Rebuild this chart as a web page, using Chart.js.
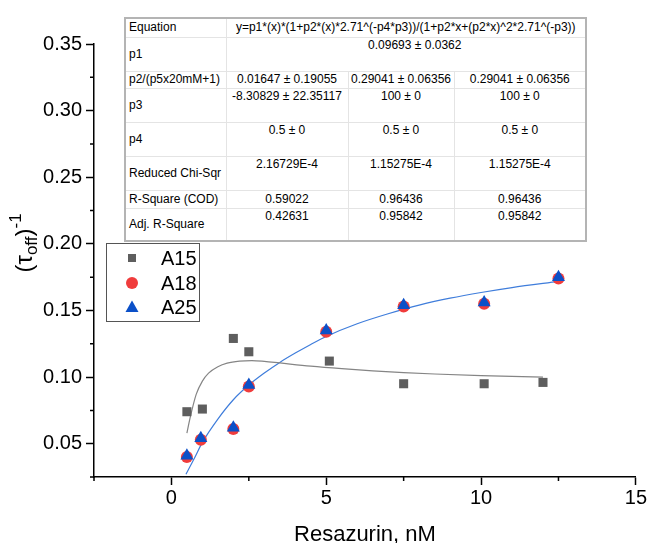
<!DOCTYPE html>
<html>
<head>
<meta charset="utf-8">
<script src="https://cdn.jsdelivr.net/npm/chart.js@4.4.0/dist/chart.umd.min.js"></script>
<style>
body { margin: 0; background: #fff; }
#wrap { position: relative; width: 648px; height: 543px; }
#fit-table {
  position: absolute; left: 124px; top: 17px; width: 461px;
  border-collapse: collapse; table-layout: fixed; background: #fff;
  font: 12px "Liberation Sans", Arial, sans-serif; color: #000;
  border: 2px solid #b4b4b4;
}
#fit-table td {
  border: 1px solid #e4e4e4; padding: 1px 0 0 0; text-align: center;
  vertical-align: top; line-height: 13px; white-space: nowrap; overflow: visible;
}
#fit-table td.lbl { text-align: left; vertical-align: middle; padding: 0 0 0 3px; }
</style>
</head>
<body>
<div id="wrap">
  <canvas id="chart" width="648" height="543"></canvas>
  <table id="fit-table"></table>
</div>
<script>
// Данные серий
const seriesNames = ['A15', 'A18', 'A25'];
const a15X = [0.5, 1.0, 2.0, 2.5, 5.1, 7.5, 10.1, 12.0];
const a15Y = [0.074, 0.076, 0.129, 0.119, 0.112, 0.095, 0.095, 0.096];
const a18X = [0.5, 0.95, 2.0, 2.5, 5.0, 7.5, 10.1, 12.5];
const a18Y = [0.040, 0.053, 0.061, 0.093, 0.134, 0.153, 0.155, 0.174];
const a25X = [0.5, 0.95, 2.0, 2.5, 5.0, 7.5, 10.1, 12.5];
const a25Y = [0.041, 0.054, 0.062, 0.094, 0.135, 0.154, 0.156, 0.175];

// Кривые подгонки
const fitA15X = [0.5, 0.6, 0.8, 1.0, 1.2, 1.5, 1.8, 2.2, 2.6, 3.0, 3.5, 4.5, 5.5, 6.5, 7.5, 8.5, 10.0, 11.0, 12.0];
const fitA15Y = [0.058, 0.069, 0.087, 0.097, 0.103, 0.1078, 0.1105, 0.1120, 0.1124, 0.1118, 0.1106, 0.1082, 0.1063, 0.1047, 0.1034, 0.1023, 0.1011, 0.1005, 0.1000];
const fitA25X = [0.47, 0.75, 1.0, 1.5, 2.0, 2.5, 3.0, 3.5, 4.0, 4.5, 5.0, 6.0, 7.0, 8.0, 9.0, 10.0, 11.0, 12.5];
const fitA25Y = [0.027, 0.0395, 0.051, 0.0685, 0.083, 0.094, 0.103, 0.111, 0.118, 0.1245, 0.1305, 0.140, 0.1475, 0.154, 0.1592, 0.1635, 0.1672, 0.1718];

// Оси
const xMin = -2.5, xMax = 15, xStep = 5, xMinorStep = 2.5;
const yMin = 0.025, yMax = 0.35, yStep = 0.05, yMinorStep = 0.025;

// Таблица параметров
const tableLabels = ['Equation', 'p1', 'p2/(p5x20mM+1)', 'p3', 'p4', 'Reduced Chi-Sqr', 'R-Square (COD)', 'Adj. R-Square'];
const equationText = 'y=p1*(x)*(1+p2*(x)*2.71^(-p4*p3))/(1+p2*x+(p2*x)^2*2.71^(-p3))';
const p1Text = '0.09693 ± 0.0362';
const tableValues = [
  ['0.01647 ± 0.19055', '0.29041 ± 0.06356', '0.29041 ± 0.06356'],
  ['-8.30829 ± 22.35117', '100 ± 0', '100 ± 0'],
  ['0.5 ± 0', '0.5 ± 0', '0.5 ± 0'],
  ['2.16729E-4', '1.15275E-4', '1.15275E-4'],
  ['0.59022', '0.96436', '0.96436'],
  ['0.42631', '0.95842', '0.95842']
];
const rowHeights = [19, 34, 17, 34, 34, 34, 18, 33];
const colWidths = [101, 122, 106, 132];

const colors = { a15: '#5e5e5e', a18: '#f03c3c', a25: '#0b50c8', fit15: '#858585', fit25: '#3f7ddb' };
const font = '"Liberation Sans", Arial, sans-serif';

function toPoints(xs, ys) {
  return xs.map((x, i) => ({ x: x, y: ys[i] }));
}

// Строим таблицу
const table = document.getElementById('fit-table');
const colgroup = document.createElement('colgroup');
colWidths.forEach(w => {
  const col = document.createElement('col');
  col.style.width = w + 'px';
  colgroup.appendChild(col);
});
table.appendChild(colgroup);
tableLabels.forEach((label, r) => {
  const tr = document.createElement('tr');
  tr.style.height = rowHeights[r] + 'px';
  const th = document.createElement('td');
  th.className = 'lbl';
  th.textContent = label;
  tr.appendChild(th);
  if (r < 2) {
    const td = document.createElement('td');
    td.colSpan = 3;
    td.textContent = r === 0 ? equationText : p1Text;
    if (r === 0) { td.style.verticalAlign = 'middle'; td.style.padding = '0'; }
    else td.style.paddingLeft = '18px';
    tr.appendChild(td);
  } else {
    tableValues[r - 2].forEach(v => {
      const td = document.createElement('td');
      td.textContent = v;
      if (r === 2 || r === 6) { td.style.verticalAlign = 'middle'; td.style.padding = '0'; }
      tr.appendChild(td);
    });
  }
  table.appendChild(tr);
});

// Плагин: малые деления, подпись оси Y, легенда
const extras = {
  id: 'extras',
  afterDraw(chart) {
    const ctx = chart.ctx;
    const xs = chart.scales.x, ys = chart.scales.y;
    ctx.save();
    ctx.strokeStyle = '#000';
    ctx.lineWidth = 1.5;
    ctx.beginPath();
    for (let v = xMin; v <= xMax + 1e-9; v += xMinorStep) {
      if (Math.abs(v / xStep - Math.round(v / xStep)) < 1e-6) continue;
      const px = xs.getPixelForValue(v);
      ctx.moveTo(px, xs.top);
      ctx.lineTo(px, xs.top + 4);
    }
    for (let v = yMin; v <= yMax + 1e-9; v += yMinorStep) {
      if (Math.abs(v / yStep - Math.round(v / yStep)) < 1e-6) continue;
      const py = ys.getPixelForValue(v);
      ctx.moveTo(ys.right, py);
      ctx.lineTo(ys.right - 4, py);
    }
    ctx.stroke();

    // подпись оси Y: (τoff)^-1
    ctx.translate(32, 243);
    ctx.rotate(-Math.PI / 2);
    ctx.fillStyle = '#000';
    ctx.textBaseline = 'alphabetic';
    const big = '24px ' + font;
    const small = '17px ' + font;
    const parts = [['(τ', big, 0], ['off', small, 5], [')', big, 0], ['-1', small, -11]];
    let total = 0;
    parts.forEach(p => { ctx.font = p[1]; total += ctx.measureText(p[0]).width; });
    let cx = -total / 2;
    parts.forEach(p => {
      ctx.font = p[1];
      ctx.fillText(p[0], cx, p[2]);
      cx += ctx.measureText(p[0]).width;
    });
    ctx.setTransform(1, 0, 0, 1, 0, 0);

    // легенда
    ctx.strokeStyle = '#555';
    ctx.lineWidth = 1;
    ctx.strokeRect(106.5, 243.5, 93, 78);
    const rowsY = [258, 283, 307];
    const symX = 132;
    ctx.fillStyle = colors.a15;
    ctx.fillRect(symX - 4, rowsY[0] - 4, 8, 8);
    ctx.fillStyle = colors.a18;
    ctx.beginPath(); ctx.arc(symX, rowsY[1], 6, 0, Math.PI * 2); ctx.fill();
    ctx.fillStyle = colors.a25;
    ctx.beginPath();
    ctx.moveTo(symX, rowsY[2] - 6.5);
    ctx.lineTo(symX + 6.5, rowsY[2] + 5);
    ctx.lineTo(symX - 6.5, rowsY[2] + 5);
    ctx.closePath(); ctx.fill();
    ctx.fillStyle = '#000';
    ctx.font = '20px ' + font;
    ctx.textBaseline = 'middle';
    seriesNames.forEach((name, i) => ctx.fillText(name, 161, rowsY[i] + 1));
    ctx.restore();
  }
};

const chart = new Chart(document.getElementById('chart'), {
  type: 'scatter',
  data: {
    datasets: [
      { label: seriesNames[0], data: toPoints(a15X, a15Y), pointStyle: 'rect', pointRadius: 6.4,
        backgroundColor: colors.a15, borderWidth: 0, order: 0 },
      { label: seriesNames[2], data: toPoints(a25X, a25Y), pointStyle: 'triangle', pointRadius: 7.5,
        backgroundColor: colors.a25, borderWidth: 0, order: 1 },
      { label: seriesNames[1], data: toPoints(a18X, a18Y), pointStyle: 'circle', pointRadius: 6,
        backgroundColor: colors.a18, borderWidth: 0, order: 2 },
      { label: 'fit A15', data: toPoints(fitA15X, fitA15Y), showLine: true, pointRadius: 0,
        borderColor: colors.fit15, borderWidth: 1.2, cubicInterpolationMode: 'monotone', order: 3 },
      { label: 'fit A18/A25', data: toPoints(fitA25X, fitA25Y), showLine: true, pointRadius: 0,
        borderColor: colors.fit25, borderWidth: 1.2, cubicInterpolationMode: 'monotone', order: 3 }
    ]
  },
  options: {
    responsive: false,
    animation: false,
    layout: { padding: { left: 0, top: 44, right: 12, bottom: 0 } },
    plugins: { legend: { display: false }, tooltip: { enabled: false } },
    scales: {
      x: {
        type: 'linear', min: xMin, max: xMax,
        afterBuildTicks: s => { s.ticks = s.ticks.filter(t => Math.abs(t.value / xStep - Math.round(t.value / xStep)) < 1e-6); },
        afterFit: s => { s.height = 66; },
        ticks: { stepSize: xStep, color: '#000', font: { family: font, size: 20 }, padding: 1 },
        grid: { drawOnChartArea: false, tickLength: 8, tickWidth: 1.5, tickColor: '#000' },
        border: { color: '#000', width: 1.5 },
        title: { display: true, text: 'Resazurin, nM', color: '#000', font: { family: font, size: 22, lineHeight: 0.75 }, padding: 0 }
      },
      y: {
        type: 'linear', min: yMin, max: yMax,
        afterBuildTicks: s => { s.ticks = s.ticks.filter(t => Math.abs(t.value / yStep - Math.round(t.value / yStep)) < 1e-6); },
        afterFit: s => { s.width = 94; },
        ticks: { stepSize: yStep, color: '#000', font: { family: font, size: 20 }, padding: 4,
          callback: v => v.toFixed(2) },
        grid: { drawOnChartArea: false, tickLength: 8, tickWidth: 1.5, tickColor: '#000' },
        border: { color: '#000', width: 1.5 }
      }
    }
  },
  plugins: [extras]
});
</script>
</body>
</html>
